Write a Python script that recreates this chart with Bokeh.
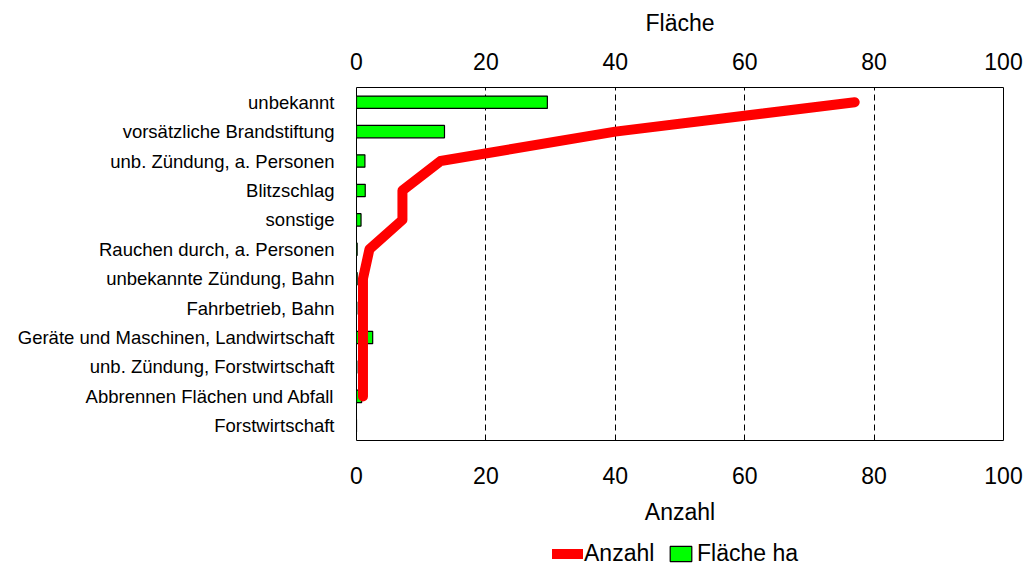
from bokeh.plotting import figure
from bokeh.layouts import column
from bokeh.models import Range1d, FactorRange, LinearAxis, FixedTicker, Legend, LegendItem, ColumnDataSource
from bokeh.embed import file_html
from bokeh.resources import INLINE

categories = [
    "unbekannt",
    "vorsätzliche Brandstiftung",
    "unb. Zündung, a. Personen",
    "Blitzschlag",
    "sonstige",
    "Rauchen durch, a. Personen",
    "unbekannte Zündung, Bahn",
    "Fahrbetrieb, Bahn",
    "Geräte und Maschinen, Landwirtschaft",
    "unb. Zündung, Forstwirtschaft",
    "Abbrennen Flächen und Abfall",
    "Forstwirtschaft",
]
flaeche_ha = [29.5, 13.6, 1.3, 1.35, 0.7, 0.1, 0.1, 0.05, 2.5, 0.05, 0.8, 0.0]
# Anzahl is drawn for the first 11 categories (line ends at "Abbrennen ...")
anzahl_cats = categories[:11]
anzahl = [77.0, 40.0, 13.0, 7.1, 7.1, 2.0, 1.0, 1.0, 1.0, 1.0, 1.0]
ticks = [0, 20, 40, 60, 80, 100]
series_names = ["Anzahl", "Fläche ha"]

FONT = "Liberation Sans"
RED = "#FF0000"
GREEN = "#00FF00"

x_range = Range1d(0, 100)
y_range = FactorRange(factors=list(reversed(categories)))

p = figure(
    width=1033, height=541,
    x_range=x_range, y_range=y_range,
    output_backend="svg", toolbar_location=None,
    min_border_left=356, min_border_right=30,
    min_border_top=87, min_border_bottom=101,
    x_axis_label="Anzahl",
)
p.extra_x_ranges = {"flaeche": Range1d(0, 100)}

top_axis = LinearAxis(x_range_name="flaeche", axis_label="Fläche", ticker=FixedTicker(ticks=ticks))
p.add_layout(top_axis, "above")
p.xaxis[0].ticker = FixedTicker(ticks=ticks)

for ax in p.xaxis:
    ax.axis_line_color = None
    ax.major_tick_line_color = None
    ax.minor_tick_line_color = None
    ax.major_tick_out = 0
    ax.major_tick_in = 0
    ax.major_label_text_font = FONT
    ax.major_label_text_font_size = "23px"
    ax.major_label_text_color = "black"
    ax.axis_label_text_font = FONT
    ax.axis_label_text_font_size = "23px"
    ax.axis_label_text_font_style = "normal"
    ax.axis_label_text_color = "black"

# bottom axis
p.below[0].major_label_standoff = 22
p.below[0].axis_label_standoff = 12
# top axis
top_axis.major_label_standoff = 18
top_axis.axis_label_standoff = 14

p.yaxis.axis_line_color = None
p.yaxis.major_tick_line_color = None
p.yaxis.minor_tick_line_color = None
p.yaxis.major_tick_out = 0
p.yaxis.major_label_text_font = FONT
p.yaxis.major_label_text_font_size = "18.5px"
p.yaxis.major_label_text_color = "black"
p.yaxis.major_label_standoff = 22

p.outline_line_color = "black"
p.outline_line_width = 1
p.ygrid.visible = False
p.xgrid.ticker = FixedTicker(ticks=[20, 40, 60, 80])
p.xgrid.grid_line_color = "black"
p.xgrid.grid_line_dash = "6 4"
p.xgrid.grid_line_width = 1

src_bars = ColumnDataSource(dict(cat=categories, flaeche=flaeche_ha))
src_line = ColumnDataSource(dict(cat=anzahl_cats, anzahl=anzahl))

bar_style = dict(fill_color=GREEN, line_color="black", line_width=1.2)
line_style = dict(line_color=RED, line_width=10, line_cap="round", line_join="round")

bars = p.hbar(y="cat", right="flaeche", left=0, height=0.42, source=src_bars,
              x_range_name="flaeche", **bar_style)
line = p.line(x="anzahl", y="cat", source=src_line, **line_style)

# legend strip below the chart (its frame is aligned with the chart's frame)
lg = figure(width=1033, height=26, x_range=x_range, y_range=y_range,
            output_backend="svg", toolbar_location=None,
            x_axis_location=None, y_axis_location=None,
            min_border_left=356, min_border_right=30,
            min_border_top=0, min_border_bottom=0)
lg.outline_line_color = None
lg.grid.visible = False
key_line = lg.line(x="anzahl", y="cat", source=src_line, visible=False, **line_style)
key_bar = lg.hbar(y="cat", right="flaeche", left=0, height=0.42, source=src_bars,
                  visible=False, **bar_style)

common = dict(orientation="horizontal", padding=0, margin=0, spacing=0,
              background_fill_alpha=0, border_line_color=None, click_policy="none",
              label_text_font=FONT, label_text_font_size="23px", label_text_color="black")
leg1 = Legend(items=[LegendItem(label=series_names[0], renderers=[key_line])],
              location=(196, 0), glyph_width=31, glyph_height=15, label_standoff=1, **common)
leg2 = Legend(items=[LegendItem(label=series_names[1], renderers=[key_bar])],
              location=(311, 0), glyph_width=27, glyph_height=19, label_standoff=3, **common)
lg.add_layout(leg1, "center")
lg.add_layout(leg2, "center")

layout = column(p, lg, spacing=0)
open("out.html", "w").write(file_html(layout, INLINE))
